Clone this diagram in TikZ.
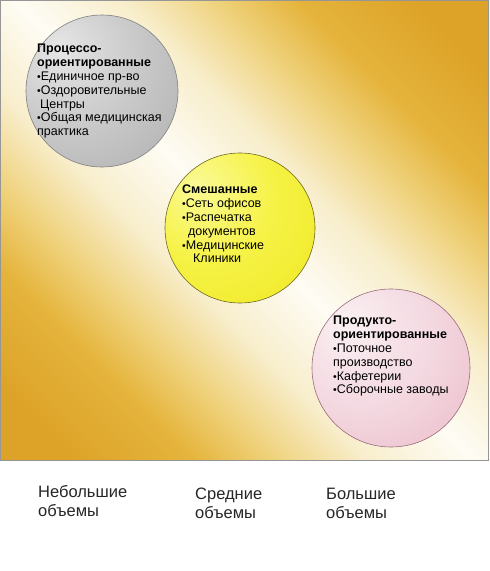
\documentclass[tikz,border=0pt]{standalone}
\usepackage{fontspec}
\setmainfont{Liberation Sans}
\definecolor{gD}{RGB}{221,163,40}
\definecolor{gM}{RGB}{229,180,60}
\definecolor{gL}{RGB}{239,210,124}
\definecolor{gC}{RGB}{248,238,204}
\definecolor{gW}{RGB}{254,252,244}
\definecolor{gyA}{RGB}{230,230,230}
\definecolor{gyB}{RGB}{202,202,202}
\definecolor{gyC}{RGB}{172,172,172}
\definecolor{gyD}{RGB}{124,124,124}
\definecolor{ywA}{RGB}{250,250,150}
\definecolor{ywB}{RGB}{246,242,70}
\definecolor{ywC}{RGB}{238,232,30}
\definecolor{ywD}{RGB}{214,200,16}
\definecolor{pkA}{RGB}{250,240,242}
\definecolor{pkB}{RGB}{244,218,226}
\definecolor{pkC}{RGB}{234,184,198}
\definecolor{pkD}{RGB}{220,156,174}
\definecolor{framegray}{RGB}{150,150,150}
\pgfdeclarehorizontalshading{bggold}{100bp}{color(0bp)=(gD); color(20bp)=(gD); color(29bp)=(gM); color(35bp)=(gL); color(42bp)=(gC); color(50bp)=(gW); color(58bp)=(gC); color(65bp)=(gL); color(71bp)=(gM); color(80bp)=(gD); color(100bp)=(gD)}
\pgfdeclareradialshading{greyball}{\pgfpoint{-15bp}{15bp}}{color(0bp)=(gyA); color(22bp)=(gyB); color(48bp)=(gyC); color(75bp)=(gyD)}
\pgfdeclareradialshading{yellowball}{\pgfpoint{-15bp}{15bp}}{color(0bp)=(ywA); color(22bp)=(ywB); color(48bp)=(ywC); color(75bp)=(ywD)}
\pgfdeclareradialshading{pinkball}{\pgfpoint{-15bp}{15bp}}{color(0bp)=(pkA); color(22bp)=(pkB); color(48bp)=(pkC); color(75bp)=(pkD)}
\newcommand\cbul{{\fontsize{10.5}{10}\selectfont •}}
\tikzset{
  bubble/.style={circle, draw=#1, line width=0.6pt, inner sep=0pt},
  circtext/.style={anchor=north west, align=left, inner sep=0pt, font=\fontsize{12.5}{13.8}\selectfont, text=black},
  axislabel/.style={anchor=north west, align=left, inner sep=0pt, font=\fontsize{16.5}{19}\selectfont, text=black!85},
  frame/.style={draw=framegray, line width=1pt}
}
\begin{document}
\begin{tikzpicture}[x=1pt, y=-1pt]
\useasboundingbox (0,0) rectangle (490,571);
\fill[white] (0,0) rectangle (490,571);
\shade[shading=bggold, shading angle=45] (0,0) rectangle (489,460);
\draw[frame] (0.5,0.5) rectangle (488.5,460);
% circles
\node[bubble=gray, minimum size=152pt, shading=greyball] (gc) at (102,91) {};
\node[bubble=olive!70!black, minimum size=150pt, shading=yellowball] (yc) at (240,228) {};
\node[bubble=pkD!70!black, minimum size=158pt, shading=pinkball] (pc) at (391,368) {};
% texts
\node[circtext] (gt) at (37,44) {\textbf{Процессо-}\\\textbf{ориентированные}\\\cbul Единичное пр-во\\\cbul Оздоровительные\\\hspace*{3pt}Центры\\\cbul Общая медицинская\\практика};
\node[circtext] (yt) at (182,185) {\textbf{Смешанные}\\\cbul Сеть офисов\\\cbul Распечатка\\\hspace*{6pt}документов\\\cbul Медицинские\\\hspace*{11pt}Клиники};
\node[circtext] (pt) at (333,316) {\textbf{Продукто-}\\\textbf{ориентированные}\\\cbul Поточное\\производство\\\cbul Кафетерии\\\cbul Сборочные заводы};
% axis labels
\node[axislabel] (l1) at (38,485) {Небольшие\\объемы};
\node[axislabel] (l2) at (195,488) {Средние\\объемы};
\node[axislabel] (l3) at (326,488) {Большие\\объемы};
\end{tikzpicture}
\end{document}
